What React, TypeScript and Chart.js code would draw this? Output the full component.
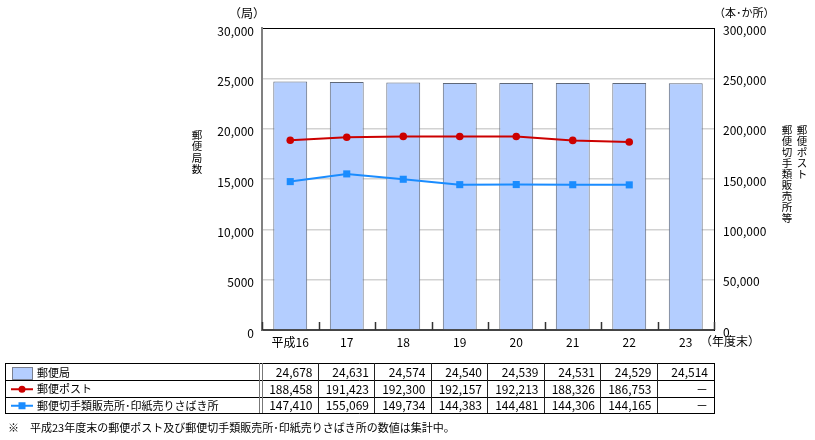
import React, { useEffect, useRef } from 'react';
import { Chart, registerables } from 'chart.js';

Chart.register(...registerables);

const categories = ['平成16', '17', '18', '19', '20', '21', '22', '23'];
const postOffices = [24678, 24631, 24574, 24540, 24539, 24531, 24529, 24514];
const postBoxes: (number | null)[] = [188458, 191423, 192300, 192157, 192213, 188326, 186753, null];
const stampShops: (number | null)[] = [147410, 155069, 149734, 144383, 144481, 144306, 144165, null];
const leftTickLabels = ['0', '5000', '10,000', '15,000', '20,000', '25,000', '30,000'];
const rightTickLabels = ['0', '50,000', '100,000', '150,000', '200,000', '250,000', '300,000'];
const seriesNames = ['郵便局', '郵便ポスト', '郵便切手類販売所･印紙売りさばき所'];
const leftUnit = '（局）';
const rightUnit = '（本･か所）';
const xUnit = '（年度末）';
const leftTitle = '郵便局数';
const rightTitleA = '郵便ポスト';
const rightTitleB = '郵便切手類販売所等';
const footnote = '※　平成23年度末の郵便ポスト及び郵便切手類販売所･印紙売りさばき所の数値は集計中。';

const FONT = '"Noto Sans CJK JP", "Noto Sans", sans-serif';
const BAR_FILL = '#b4ceff';
const BAR_EDGE = '#5f6878';
const RED = '#cc0000';
const BLUE = '#1a8cff';

const fmt = (v: number | null) => (v == null ? '－' : v.toLocaleString('en-US'));

const overlayPlugin = {
  id: 'overlay',
  afterDraw(chart: any) {
    const ctx = chart.ctx as CanvasRenderingContext2D;
    const area = chart.chartArea;
    const n = categories.length;
    const catW = (area.right - area.left) / n;
    ctx.save();

    // category separator ticks (inside)
    ctx.strokeStyle = '#333';
    ctx.lineWidth = 1.5;
    for (let i = 0; i <= n; i++) {
      const x = Math.round(area.left + i * catW) + 0.5;
      ctx.beginPath();
      ctx.moveTo(x, area.bottom);
      ctx.lineTo(x, area.bottom - 8);
      ctx.stroke();
    }

    ctx.fillStyle = '#000';
    ctx.textBaseline = 'middle';

    // units
    ctx.font = `12px ${FONT}`;
    ctx.textAlign = 'left';
    ctx.fillText(leftUnit, 229, 13);
    ctx.font = `11px ${FONT}`;
    ctx.fillText(rightUnit, 714, 13);
    ctx.font = `12px ${FONT}`;
    ctx.fillText(xUnit, 700, 341);

    // vertical titles
    ctx.font = `10.5px ${FONT}`;
    ctx.textAlign = 'center';
    [...leftTitle].forEach((c, i) => ctx.fillText(c, 197, 135 + i * 11.5));
    [...rightTitleA].forEach((c, i) => ctx.fillText(c, 802, 130 + i * 11));
    [...rightTitleB].forEach((c, i) => ctx.fillText(c, 787, 130 + i * 11));

    // table
    const rows = [363, 380, 396.5, 413];
    const tLeft = 5;
    const tRight = area.right;
    ctx.strokeStyle = '#000';
    ctx.lineWidth = 1;
    rows.forEach((y) => {
      ctx.beginPath();
      ctx.moveTo(tLeft, Math.round(y) + 0.5);
      ctx.lineTo(tRight, Math.round(y) + 0.5);
      ctx.stroke();
    });
    ctx.beginPath();
    ctx.moveTo(tLeft + 0.5, rows[0]);
    ctx.lineTo(tLeft + 0.5, rows[3] + 1);
    ctx.moveTo(Math.round(tRight) + 0.5, rows[0]);
    ctx.lineTo(Math.round(tRight) + 0.5, rows[3] + 1);
    ctx.stroke();
    ctx.strokeStyle = '#222';
    for (let i = 1; i < n; i++) {
      const x = Math.round(area.left + i * catW) - 0.5;
      ctx.beginPath();
      ctx.moveTo(x, rows[0]);
      ctx.lineTo(x, rows[3]);
      ctx.stroke();
    }
    ctx.strokeStyle = '#777';
    [259.5, 262.5].forEach((x) => {
      ctx.beginPath();
      ctx.moveTo(x, rows[0]);
      ctx.lineTo(x, rows[3]);
      ctx.stroke();
    });

    const centers = [0, 1, 2].map((r) => (rows[r] + rows[r + 1]) / 2 + 1);

    // legend swatches
    ctx.fillStyle = BAR_FILL;
    ctx.fillRect(12, 367, 20, 12);
    ctx.strokeStyle = '#7a8090';
    ctx.strokeRect(12.5, 367.5, 20, 12);

    ctx.lineWidth = 2;
    ctx.strokeStyle = RED;
    ctx.beginPath();
    ctx.moveTo(11, centers[1]);
    ctx.lineTo(33, centers[1]);
    ctx.stroke();
    ctx.fillStyle = RED;
    ctx.beginPath();
    ctx.arc(22, centers[1], 3.5, 0, Math.PI * 2);
    ctx.fill();

    ctx.strokeStyle = BLUE;
    ctx.beginPath();
    ctx.moveTo(11, centers[2]);
    ctx.lineTo(33, centers[2]);
    ctx.stroke();
    ctx.fillStyle = BLUE;
    ctx.fillRect(18.5, centers[2] - 3.5, 7, 7);

    ctx.fillStyle = '#000';
    ctx.textAlign = 'left';
    ctx.font = `11px ${FONT}`;
    seriesNames.forEach((s, r) => ctx.fillText(s, 37, centers[r]));

    ctx.font = `12px ${FONT}`;
    ctx.textAlign = 'right';
    const series = [postOffices, postBoxes, stampShops];
    series.forEach((arr, r) => {
      arr.forEach((v, i) => {
        const xr = area.left + (i + 1) * catW - 6;
        ctx.fillText(fmt(v as number | null), xr, centers[r]);
      });
    });

    // footnote
    ctx.textAlign = 'left';
    ctx.font = `11px ${FONT}`;
    ctx.fillText(footnote, 8, 428);

    ctx.restore();
  },
};

export default function App() {
  const ref = useRef<HTMLCanvasElement | null>(null);

  useEffect(() => {
    if (!ref.current) return;
    const tickFont = { family: FONT, size: 12 };
    const chart = new Chart(ref.current, {
      type: 'bar',
      data: {
        labels: categories,
        datasets: [
          {
            type: 'line',
            label: seriesNames[1],
            data: postBoxes,
            yAxisID: 'y1',
            borderColor: RED,
            backgroundColor: RED,
            borderWidth: 2,
            pointStyle: 'circle',
            pointRadius: 3.8,
            pointBorderWidth: 0,
            pointBackgroundColor: RED,
            order: 1,
          } as any,
          {
            type: 'line',
            label: seriesNames[2],
            data: stampShops,
            yAxisID: 'y1',
            borderColor: BLUE,
            backgroundColor: BLUE,
            borderWidth: 2,
            pointStyle: 'rect',
            pointRadius: 5,
            pointBorderWidth: 0,
            pointBackgroundColor: BLUE,
            order: 2,
          } as any,
          {
            type: 'bar',
            label: seriesNames[0],
            data: postOffices,
            yAxisID: 'y',
            backgroundColor: BAR_FILL,
            borderColor: BAR_EDGE,
            borderWidth: 1,
            categoryPercentage: 1,
            barPercentage: 0.6,
            order: 3,
          } as any,
        ],
      },
      options: {
        responsive: false,
        animation: false,
        layout: { padding: { top: 28, left: 0, right: 0, bottom: 0 } },
        plugins: { legend: { display: false }, tooltip: { enabled: false } },
        scales: {
          x: {
            type: 'category',
            offset: true,
            grid: { display: false, drawTicks: false },
            border: { display: true, color: '#444', width: 2 },
            ticks: { color: '#000', font: tickFont, padding: 5, maxRotation: 0, autoSkip: false },
            afterFit: (s: any) => {
              s.height = 110;
            },
          },
          y: {
            position: 'left',
            min: 0,
            max: 30000,
            ticks: {
              stepSize: 5000,
              color: '#000',
              font: tickFont,
              padding: 8,
              labelOffset: 3,
              callback: (_v: any, i: number) => leftTickLabels[i],
            },
            grid: {
              drawTicks: false,
              color: (c: any) => (c.tick && c.tick.value === 30000 ? '#000' : '#d2d2d2'),
              lineWidth: (c: any) => (c.tick && c.tick.value === 30000 ? 1 : 1.5),
            },
            border: { color: '#808080', width: 2 },
            afterFit: (s: any) => {
              s.width = 262;
            },
          },
          y1: {
            position: 'right',
            min: 0,
            max: 300000,
            ticks: {
              stepSize: 50000,
              color: '#000',
              font: tickFont,
              padding: 9,
              labelOffset: 2,
              callback: (_v: any, i: number) => rightTickLabels[i],
            },
            grid: { display: false, drawTicks: false },
            border: { color: '#000', width: 1 },
            afterFit: (s: any) => {
              s.width = 101;
            },
          },
        },
      } as any,
      plugins: [overlayPlugin],
    });
    return () => chart.destroy();
  }, []);

  return (
    <div style={{ position: 'absolute', left: 0, top: 0, width: 815, height: 440, background: '#fff' }}>
      <canvas ref={ref} width={815} height={440} />
    </div>
  );
}
